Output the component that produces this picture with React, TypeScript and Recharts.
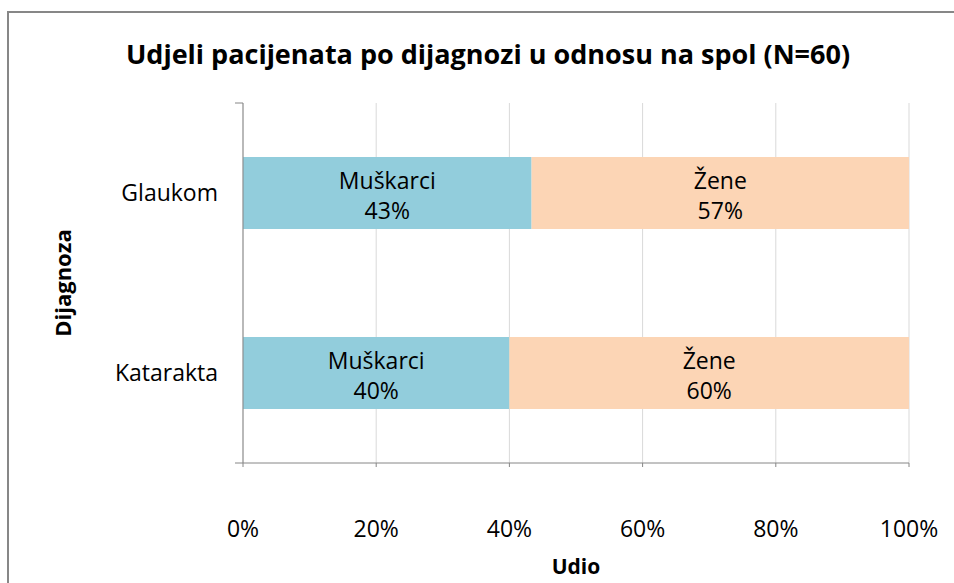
import { BarChart, Bar, XAxis, YAxis, CartesianGrid, LabelList, Label } from 'recharts';

const categories = ['Glaukom', 'Katarakta'];
const muskarci = [43.33, 40];
const zene = [56.67, 60];
const xTicks = [0, 20, 40, 60, 80, 100];
const boundaryTicks = [0, 1, 2];

const data = categories.map((name, i) => ({
  name,
  muskarci: muskarci[i],
  zene: zene[i],
}));

const FONT = '"Open Sans", Lato, sans-serif';

const makeLabel = (title: string) => (props: any) => {
  const { x, y, width, height, value } = props;
  const cx = x + width / 2;
  const cy = y + height / 2;
  return (
    <text x={cx} y={cy} textAnchor="middle" fontSize={23} fill="#000" fontFamily={FONT}>
      <tspan x={cx} dy={-4}>{title}</tspan>
      <tspan x={cx} dy={30}>{Math.round(value)}%</tspan>
    </text>
  );
};

const YTitle = (props: any) => {
  const { viewBox } = props;
  const cx = viewBox.x + 62;
  const cy = viewBox.y + viewBox.height / 2;
  return (
    <text
      x={cx}
      y={cy}
      transform={`rotate(-90 ${cx} ${cy})`}
      textAnchor="middle"
      dominantBaseline="central"
      fontSize={22}
      fontWeight="bold"
      fontFamily={FONT}
      fill="#000"
    >
      Dijagnoza
    </text>
  );
};

const NoTick = () => <g />;

export default function App() {
  return (
    <div style={{ position: 'fixed', left: 0, top: 0, width: 954, height: 583, overflow: 'hidden', background: '#fff' }}>
      <div
        style={{
          position: 'absolute',
          left: 7,
          top: 11,
          width: 980,
          height: 600,
          border: '2px solid #878787',
          boxSizing: 'border-box',
        }}
      />
      <div
        style={{
          position: 'absolute',
          left: 0,
          width: 976,
          top: 35,
          textAlign: 'center',
          fontFamily: FONT,
          fontWeight: 'bold',
          fontSize: 27,
          color: '#000',
        }}
      >
        Udjeli pacijenata po dijagnozi u odnosu na spol (N=60)
      </div>
      <div style={{ position: 'absolute', left: 0, top: 0 }}>
        <BarChart
          width={954}
          height={583}
          data={data}
          layout="vertical"
          margin={{ top: 103, right: 45, bottom: 0, left: 0 }}
        >
          <CartesianGrid horizontal={false} vertical stroke="#d9d9d9" yAxisId="b" />
          <XAxis
            type="number"
            domain={[0, 100]}
            ticks={xTicks}
            tickFormatter={(v) => `${v}%`}
            height={120}
            tickSize={4}
            tickMargin={54}
            stroke="#868686"
            tick={{ fill: '#000', fontSize: 23, fontFamily: FONT }}
            axisLine={{ stroke: '#868686' }}
            tickLine={{ stroke: '#868686' }}
            interval={0}
          >
            <Label value="Udio" position="insideBottom" offset={9} fill="#000" fontSize={21} fontWeight="bold" fontFamily={FONT} />
          </XAxis>
          <YAxis
            yAxisId="a"
            type="number"
            domain={[0, 2]}
            ticks={boundaryTicks}
            width={1}
            tick={NoTick}
            tickSize={8}
            axisLine={{ stroke: '#868686' }}
            tickLine={{ stroke: '#868686' }}
          />
          <YAxis
            yAxisId="b"
            type="category"
            dataKey="name"
            width={242}
            tickSize={0}
            tickMargin={24}
            tickLine={false}
            axisLine={false}
            tick={{ fill: '#000', fontSize: 23, fontFamily: FONT }}
          >
            <Label content={YTitle} />
          </YAxis>
          <Bar dataKey="muskarci" yAxisId="b" stackId="s" fill="#92CDDC" barSize={72} isAnimationActive={false}>
            <LabelList dataKey="muskarci" content={makeLabel('Muškarci')} />
          </Bar>
          <Bar dataKey="zene" yAxisId="b" stackId="s" fill="#FCD5B5" barSize={72} isAnimationActive={false}>
            <LabelList dataKey="zene" content={makeLabel('Žene')} />
          </Bar>
        </BarChart>
      </div>
    </div>
  );
}
